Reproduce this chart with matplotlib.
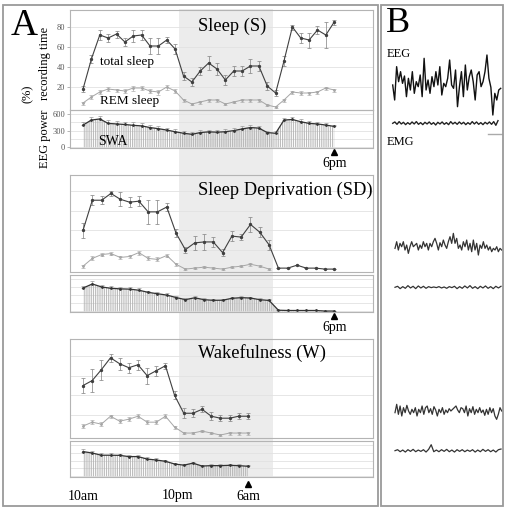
import numpy as np
import matplotlib
matplotlib.use("Agg")
import matplotlib.pyplot as plt
import matplotlib.transforms as mtransforms
from matplotlib.patches import Rectangle

plt.rcParams['font.family'] = ['Liberation Serif', 'DejaVu Serif']
plt.rcParams['hatch.linewidth'] = 0.6

# ---------------- data (panel A) ----------------
# time axis: hours after 10am
S_hours = np.linspace(0, 32, 31)
S_total = [18, 48, 72, 69, 73, 65, 71, 72, 61, 61, 67, 58, 31, 25, 36, 44, 38, 27, 36, 36,
           41, 41, 21, 14, 46, 80, 69, 67, 77, 72, 85]
S_total_err = [3, 4, 5, 4, 3.5, 4, 6, 5, 8, 8, 3, 5, 4, 4, 4, 7, 6, 5, 5, 5, 7, 5, 4, 3, 5,
               2.5, 5, 7.5, 4, 13, 2.5]
S_rem = [4, 10, 15, 18, 17, 16, 19, 19, 16, 15, 20, 16, 7, 3, 5, 7, 7, 3, 5, 7, 7, 7, 2, 0,
         7, 15, 14, 14, 15, 19, 17]
S_rem_err = [1.5, 2, 2, 2, 1.5, 2, 2.5, 2, 2, 2.5, 2.5, 2, 1.5, 1, 1.5, 1.5, 1.5, 1, 1, 1.5,
             1.5, 1.5, 1, 1, 1.5, 1.5, 2, 1.5, 1.5, 1.5, 1.5]
S_swa = [400, 490, 510, 430, 420, 410, 395, 385, 355, 335, 310, 280, 252, 234, 265, 278, 272,
         280, 300, 330, 355, 345, 265, 252, 490, 500, 460, 430, 420, 400, 375]
S_swa_err = [60, 50, 45, 55, 50, 50, 55, 50, 45, 45, 40, 40, 35, 35, 40, 40, 35, 40, 40, 45,
             45, 40, 35, 35, 45, 40, 40, 40, 35, 35, 30]

SD_hours = np.linspace(0, 32, 28)
SD_total = [40, 71, 71, 78, 72, 69, 70, 59, 59, 64, 37, 20, 27, 28, 28, 17, 34, 33, 46, 38,
            25, 1, 1, 4, 1, 1, 0, 0]
SD_total_err = [8, 5, 4, 3, 7, 5, 5, 12, 12, 4, 4, 3, 7, 8, 5, 4, 5.5, 3, 7.5, 5, 5,
                0, 0, 0, 0, 0, 0, 0]
SD_rem = [3, 11, 15, 16, 12, 13, 17, 11, 10, 14, 5, 0, 1, 2, 1, 0, 2, 3, 5, 3, 0]
SD_rem_err = [1.5, 2, 2, 1.5, 2, 2, 2, 2, 2, 2, 1.5, 1, 1, 1, 1, 1, 1, 1, 1.5, 1, 1]
SD_swa = [430, 505, 450, 425, 415, 410, 390, 350, 325, 300, 255, 215, 250, 215, 203, 205,
          240, 252, 245, 215, 200, 20, 15, 15, 15, 15, 5, 5]
SD_swa_err = [40, 50, 40, 35, 35, 35, 35, 30, 30, 30, 30, 25, 30, 25, 25, 25, 25, 25, 25, 25,
              25, 5, 5, 5, 5, 5, 5, 5]

W_hours = np.linspace(0, 21, 19)
W_total = [50, 55, 66, 78, 72, 68, 71, 60, 65, 70, 40, 22, 22, 26, 19, 17, 17, 19, 19]
W_total_err = [8, 12, 10, 4, 6, 5, 5, 8, 5, 3, 4, 5, 4, 3, 4, 3, 3, 3, 3]
W_rem = [9, 13, 11, 19, 14, 16, 19, 13, 13, 19, 8, 2, 2, 4, 2, 0, 2, 2, 2]
W_rem_err = [2, 2, 2, 1.5, 2, 2, 2, 2, 2, 2, 1.5, 1, 1, 1, 1, 1, 1.5, 1.5, 1.5]
W_swa = [470, 443, 401, 401, 398, 375, 375, 328, 310, 285, 234, 212, 250, 195, 203, 203,
         209, 203, 191]
W_swa_err = [40, 40, 40, 40, 35, 35, 35, 30, 30, 30, 25, 25, 30, 25, 25, 25, 25, 25, 25]

dark_period = (12.2, 24.2)
time_ticks = [0, 12, 21]
time_labels = ['10am', '10pm', '6am']
panel_titles = ['Sleep (S)', 'Sleep Deprivation (SD)', 'Wakefulness (W)']
end_marks = [(32, '6pm'), (32, '6pm'), (21, '6am')]

# ---------------- data (panel B, example traces) ----------------
EEG_S = [0, -45, 55, 10, 40, 5, 27, -35, 20, -15, 40, -25, 10, -5, 30, -35, 80, -15, 15, -25,
         25, -5, 40, 0, 55, -30, 5, -5, 20, 75, 0, -10, 45, -65, -5, 40, -35, 60, -15, 25,
         45, 10, -45, 30, 40, -5, 10, 40, 90, 20, -7, -90, -25, -45, -15, -10]
EMG_S = [0, 4, -3, 5, -2, 3, -4, 2, -3, 4, -2, 5, -3, 2, -4, 3, -2, 4, -3, 2, -5, 3, -2, 4,
         -3, 2, -4, 5, -2, 3, -3, 4, -2, 3, -4, 2, -3, 5, -2, 4, -3, 2, -4, 3, -2, 4, -3, 5,
         -6, 8]
EEG_SD = [-5, 15, -10, 10, 0, 15, -10, 5, -20, 0, 15, 0, 5, 10, -10, 5, -5, 15, 0, 10, -10,
          10, 0, 15, 25, 10, -10, 12, 0, 20, 5, -5, 15, 30, 10, 40, 10, 25, -5, 5, -10, 15,
          0, 20, -10, 10, -15, 20, -10, 10, -25, 5, -5, 15, -5, 5, -10, 0, -15, -5, -10, 0,
          -15, -5, -10]
EMG_SD = [0, 3, -4, 2, -3, 5, -2, 3, -4, 4, -2, 3, -3, 2, -1, 1, -1, 2, -2, 1, -3, 2, -1, 3,
          -4, 2, -3, 4, -2, 5, -3, 2, -4, 3, -2, 4, -3, 2, -4, 3, -2, 3]
EEG_W = [-5, 20, -10, 15, -15, 10, -5, 17, 0, -10, 5, -5, 10, -15, 5, -5, 15, -10, 10, 15, -5,
         7, -10, 13, 3, -15, 5, -5, 10, -10, 3, -5, 7, 0, 5, 10, 15, 3, -5, 10, 7, -5, 15, -15,
         7, -5, 13, -10, 5, -5, 10, -5, 3, -13, 5, -10, 10, -5, 7, -15, -25, -10, 10, 0]
EMG_W = [0, 3, -3, 2, -4, 3, -2, 4, -3, 2, -2, 3, -4, 4, 18, -3, 2, -3, 3, -2, 4, -3, 2, -4,
         3, -2, 3, -3, 2, -2, 3, -4, 2, -3, 4, -2, 3, -3, 2, -4, 3, 5]

# ---------------- figure ----------------
W, H = 505, 508
fig = plt.figure(figsize=(W / 100, H / 100), dpi=100)


def box(x0, y0, x1, y1):
    return [x0 / W, 1 - y1 / H, (x1 - x0) / W, (y1 - y0) / H]


XL = (-1.66, 36.94)
TOP_YL = (-3, 97)
SWA_YL = (-13, 671)
frame_col = '#b4b4b4'

# shaded dark period behind all three panels
bg = fig.add_axes(box(70, 9, 373, 478))
bg.set_xlim(XL)
bg.axvspan(*dark_period, color='#ececec', lw=0)
bg.axis('off')

panels = [
    dict(top=(10, 110), swa=(110, 148), t=(S_hours, S_hours, S_hours),
         tot=S_total, tot_e=S_total_err, rem=S_rem, rem_e=S_rem_err, swa_v=S_swa,
         swa_e=S_swa_err, labels=True, mark_dy=(4.5, 16), title_y=31),
    dict(top=(175, 272), swa=(275, 312), t=(SD_hours, SD_hours[:len(SD_rem)], SD_hours),
         tot=SD_total, tot_e=SD_total_err, rem=SD_rem, rem_e=SD_rem_err, swa_v=SD_swa,
         swa_e=SD_swa_err, labels=False, mark_dy=(3.5, 16), title_y=195),
    dict(top=(339, 438), swa=(441, 477), t=(W_hours, W_hours, W_hours),
         tot=W_total, tot_e=W_total_err, rem=W_rem, rem_e=W_rem_err, swa_v=W_swa,
         swa_e=W_swa_err, labels=False, mark_dy=(6.5, 19), title_y=358),
]

for i, p in enumerate(panels):
    ax = fig.add_axes(box(70, p['top'][0], 373, p['top'][1]))
    ax2 = fig.add_axes(box(70, p['swa'][0], 373, p['swa'][1]))
    for a in (ax, ax2):
        a.set_facecolor('none')
        a.set_xlim(XL)
        for s in a.spines.values():
            s.set_color(frame_col)
            s.set_linewidth(0.8)
        a.set_xticks([])
        a.set_axisbelow(True)
        a.yaxis.grid(True, color='#e2e2e2', lw=0.6)
        a.tick_params(axis='y', length=2, width=0.5, color='#999', labelsize=6,
                      labelcolor='#555', pad=1.5)
    ax.set_ylim(TOP_YL)
    ax.set_yticks([20, 40, 60, 80])
    ax2.set_ylim(SWA_YL)
    ax2.set_yticks([0, 300, 600])
    ax2.set_yticks([150, 450], minor=True)
    ax2.yaxis.grid(True, which='minor', color='#e2e2e2', lw=0.6)
    ax2.tick_params(axis='y', which='minor', length=0)
    if not p['labels']:
        ax.tick_params(axis='y', length=0, labelleft=False)
        ax2.tick_params(axis='y', length=0, labelleft=False)

    t_tot, t_rem, t_swa = p['t']
    ax.errorbar(t_rem, p['rem'], yerr=p['rem_e'], color='#a6a6a6', lw=0.7, marker='o',
                ms=1.0, ecolor='#b0b0b0', elinewidth=0.5, capsize=1.2, capthick=0.5)
    ax.errorbar(t_tot, p['tot'], yerr=p['tot_e'], color='#404040', lw=0.8, marker='o',
                ms=1.4, ecolor='#8a8a8a', elinewidth=0.55, capsize=1.4, capthick=0.55)

    swa = np.asarray(p['swa_v'], float)
    ax2.fill_between(t_swa, 0, swa, facecolor='none', edgecolor='#b0b0b0',
                     hatch='|' * 9, lw=0)
    ax2.errorbar(t_swa, swa, yerr=[np.zeros_like(swa), p['swa_e']], color='#333333', lw=0.9,
                 marker='o', ms=1.0, ecolor='#999999', elinewidth=0.5, capsize=1.2,
                 capthick=0.5)

    # end-of-recording arrow and label
    t_end, lab = end_marks[i]
    tr_m = ax2.get_xaxis_transform() + mtransforms.ScaledTranslation(
        0, -p['mark_dy'][0] / 100, fig.dpi_scale_trans)
    ax2.plot([t_end], [0], marker='^', ms=5, color='black', transform=tr_m, clip_on=False)
    tr_l = ax2.get_xaxis_transform() + mtransforms.ScaledTranslation(
        0, -p['mark_dy'][1] / 100, fig.dpi_scale_trans)
    ax2.text(t_end, 0, lab, transform=tr_l, ha='center', va='center', fontsize=10)
    if i == 2:
        for tt, tl in zip(time_ticks[:2], time_labels[:2]):
            ax2.text(tt, 0, tl, transform=tr_l, ha='center', va='center', fontsize=10)

    fig.text(198 / W, 1 - p['title_y'] / H, panel_titles[i], fontsize=13.2,
             ha='left', va='baseline')

    if p['labels']:
        fig.text(100 / W, 1 - 65 / H, 'total sleep', fontsize=9.5, va='baseline')
        fig.text(100 / W, 1 - 104 / H, 'REM sleep', fontsize=9.5, va='baseline')
        fig.text(98 / W, 1 - 145 / H, 'SWA', fontsize=10, va='baseline')

# y-axis labels
fig.text(28 / W, 1 - 94 / H, '(%)', rotation=90, ha='center', va='center', fontsize=9)
fig.text(45 / W, 1 - 63 / H, 'recording time', rotation=90, ha='center', va='center',
         fontsize=9)
fig.text(45 / W, 1 - 139 / H, 'EEG power', rotation=90, ha='center', va='center',
         fontsize=9)

# panel letters
fig.text(11 / W, 1 - 35 / H, 'A', fontsize=27, va='baseline')
fig.text(386 / W, 1 - 32 / H, 'B', fontsize=26, va='baseline')

# outer frames
for (x0, y0, x1, y1) in [(3, 5, 378, 506), (381, 5, 503, 506)]:
    fig.add_artist(Rectangle((x0 / W, 1 - y1 / H), (x1 - x0) / W, (y1 - y0) / H,
                             transform=fig.transFigure, fill=False, edgecolor='#9a9a9a',
                             lw=1.3))

# ---------------- panel B ----------------
axB = fig.add_axes(box(381, 5, 503, 506))
axB.set_xlim(381, 503)
axB.set_ylim(506, 5)
axB.axis('off')
traces = [
    (EEG_S, 392.7, 500.7, 85.0, 1.0, '#111111'),
    (EMG_S, 392.7, 498.0, 123.3, 1.0, '#222222'),
    (EEG_SD, 395.0, 501.7, 246.7, 0.9, '#333333'),
    (EMG_SD, 395.0, 501.0, 287.3, 0.9, '#333333'),
    (EEG_W, 395.0, 501.7, 411.0, 0.9, '#333333'),
    (EMG_W, 395.0, 501.0, 450.7, 0.9, '#333333'),
]
for vals, x0, x1, yc, lw, col in traces:
    v = np.asarray(vals, float)
    axB.plot(np.linspace(x0, x1, len(v)), yc - v / 3.0, color=col, lw=lw)
axB.plot([488, 503], [134, 134], color='#aaaaaa', lw=1)
axB.text(387, 57, 'EEG', fontsize=9, va='baseline')
axB.text(387, 145, 'EMG', fontsize=9, va='baseline')

fig.savefig('out.png', dpi=100)
